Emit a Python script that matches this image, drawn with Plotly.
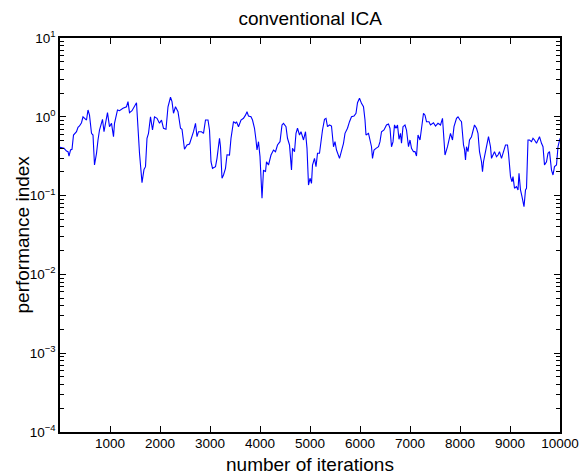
import plotly.graph_objects as go

iterations = [0, 80, 130, 160, 180, 210, 240, 270, 330, 360, 390, 430, 460, 530, 560, 590, 630, 660, 690, 730,
              760, 790, 850, 880, 910, 950, 990, 1030, 1070, 1090, 1150, 1190, 1260, 1330, 1360, 1390, 1440, 1490, 1530, 1590,
              1640, 1680, 1710, 1740, 1770, 1810, 1850, 1890, 1940, 1990, 2030, 2070, 2120, 2160, 2210, 2240, 2270, 2310, 2360, 2410,
              2440, 2490, 2540, 2590, 2640, 2670, 2710, 2740, 2770, 2830, 2870, 2910, 2960, 2990, 3020, 3050, 3110, 3140, 3190, 3210,
              3240, 3270, 3310, 3340, 3390, 3420, 3470, 3510, 3530, 3570, 3620, 3670, 3710, 3740, 3770, 3820, 3850, 3890, 3920, 3940,
              3970, 4000, 4040, 4070, 4110, 4130, 4170, 4220, 4270, 4310, 4350, 4400, 4440, 4470, 4520, 4550, 4590, 4630, 4650, 4690,
              4720, 4750, 4790, 4820, 4870, 4910, 4940, 4970, 5000, 5030, 5050, 5090, 5120, 5150, 5190, 5220, 5250, 5290, 5320, 5350,
              5390, 5430, 5470, 5500, 5530, 5590, 5630, 5670, 5700, 5750, 5790, 5830, 5880, 5920, 5950, 5990, 6030, 6070, 6100, 6120,
              6170, 6200, 6230, 6250, 6280, 6320, 6370, 6400, 6430, 6480, 6530, 6570, 6600, 6630, 6660, 6690, 6720, 6750, 6780, 6810,
              6830, 6860, 6900, 6930, 6970, 7000, 7030, 7070, 7100, 7130, 7160, 7200, 7230, 7270, 7300, 7330, 7380, 7410, 7470, 7510,
              7560, 7610, 7650, 7680, 7700, 7750, 7780, 7810, 7850, 7880, 7930, 7960, 8000, 8030, 8070, 8090, 8110, 8130, 8160, 8190,
              8230, 8260, 8290, 8330, 8360, 8390, 8430, 8450, 8470, 8510, 8540, 8570, 8610, 8630, 8660, 8690, 8730, 8760, 8790, 8830,
              8860, 8910, 8950, 8970, 9010, 9040, 9060, 9090, 9130, 9160, 9180, 9210, 9240, 9280, 9310, 9330, 9360, 9390, 9430, 9460,
              9490, 9530, 9560, 9590, 9630, 9660, 9690, 9730, 9760, 9790, 9830, 9860, 9890, 9930, 9960, 10000]

performance_index = [0.41, 0.398, 0.368, 0.361, 0.318, 0.379, 0.387, 0.587, 0.647, 0.736, 0.764, 0.842, 1.0, 0.91, 1.22, 1.05, 0.617, 0.587, 0.2445, 0.344,
                     0.508, 0.68, 0.93, 0.647, 0.827, 1.13, 0.749, 0.827, 0.559, 0.827, 1.22, 1.195, 1.28, 1.34, 1.555, 1.13, 1.195, 1.37, 1.51, 0.344,
                     0.146, 0.215, 0.233, 0.534, 0.617, 1.0, 0.68, 1.0, 0.957, 0.827, 0.91, 0.715, 0.694, 1.34, 1.77, 1.555, 1.11, 1.34, 1.16, 0.715,
                     0.694, 0.387, 0.439, 0.452, 0.559, 0.647, 0.827, 0.559, 0.647, 0.647, 0.617, 0.91, 0.91, 0.68, 0.269, 0.222, 0.233, 0.297, 0.534, 0.417,
                     0.166, 0.1826, 0.222, 0.33, 0.327, 0.534, 0.867, 0.827, 0.867, 0.749, 0.91, 0.957, 1.05, 1.16, 1.02, 1.0, 0.91, 0.715, 0.508, 0.379,
                     0.483, 0.312, 0.0924, 0.211, 0.201, 0.269, 0.2445, 0.327, 0.379, 0.361, 0.439, 0.483, 0.787, 0.827, 0.749, 0.534, 0.439, 0.211, 0.398, 0.361,
                     0.617, 0.715, 0.587, 0.647, 0.508, 0.647, 0.398, 0.136, 0.166, 0.143, 0.2445, 0.297, 0.233, 0.344, 0.344, 0.508, 0.68, 0.93, 0.957, 0.749,
                     0.787, 0.764, 0.417, 0.483, 0.379, 0.297, 0.361, 0.461, 0.617, 0.715, 0.867, 1.0, 1.02, 1.11, 1.51, 1.72, 1.48, 1.34, 0.91, 0.587,
                     0.617, 0.508, 0.417, 0.297, 0.379, 0.398, 0.417, 0.483, 0.647, 0.68, 0.787, 0.81, 0.715, 0.417, 0.48, 0.79, 0.715, 0.787, 0.518, 0.617,
                     0.461, 0.749, 0.787, 0.68, 0.417, 0.508, 0.398, 0.361, 0.361, 0.318, 0.587, 0.508, 0.68, 1.11, 1.05, 0.867, 0.867, 0.787, 0.842, 0.764,
                     0.827, 0.787, 0.957, 0.508, 0.327, 0.417, 0.534, 0.617, 0.508, 0.749, 0.957, 1.0, 0.91, 0.867, 0.439, 0.387, 0.283, 0.417, 0.361, 0.508,
                     0.559, 0.647, 0.787, 0.715, 0.617, 0.361, 0.269, 0.201, 0.269, 0.361, 0.483, 0.559, 0.417, 0.297, 0.327, 0.361, 0.312, 0.327, 0.361, 0.297,
                     0.344, 0.439, 0.439, 0.344, 0.174, 0.150, 0.174, 0.124, 0.130, 0.118, 0.192, 0.118, 0.0968, 0.0723, 0.118, 0.124, 0.508, 0.508, 0.483, 0.534,
                     0.508, 0.461, 0.508, 0.559, 0.461, 0.417, 0.2445, 0.269, 0.344, 0.361, 0.211, 0.1826, 0.233, 0.2445, 0.417, 0.534]

x_tick_vals = [1000, 2000, 3000, 4000, 5000, 6000, 7000, 8000, 9000, 10000]
x_tick_text = ["1000", "2000", "3000", "4000", "5000", "6000", "7000", "8000", "9000", "10000"]
y_tick_vals = [1e-4, 1e-3, 1e-2, 1e-1, 1e0, 1e1]
y_tick_text = ["10<sup>−4</sup>", "10<sup>−3</sup>", "10<sup>−2</sup>", "10<sup>−1</sup>", "10<sup>0</sup>", "10<sup>1</sup>"]
y_minor_vals = [m * d for d in [1e-4, 1e-3, 1e-2, 1e-1, 1e0] for m in range(2, 10)]

font_family = "Liberation Sans, Arial, Helvetica, sans-serif"

fig = go.Figure()
fig.add_trace(go.Scatter(
    x=iterations, y=performance_index, mode="lines",
    line=dict(color="#0000ff", width=1.1),
    showlegend=False,
))
# empty helper trace so the overlaid minor-tick axis is drawn
fig.add_trace(go.Scatter(x=[None], y=[None], yaxis="y2", mode="lines",
                         showlegend=False, hoverinfo="skip"))

fig.update_layout(
    width=582, height=476,
    margin=dict(l=60, r=22, t=38, b=44, autoexpand=False),
    paper_bgcolor="white", plot_bgcolor="white",
    font=dict(family=font_family, color="black", size=13),
    title=dict(text="conventional ICA", x=0.533, xanchor="center", y=0.962, yanchor="middle",
               font=dict(size=19, family=font_family, color="black")),
    annotations=[
        dict(text="number of iterations", xref="paper", yref="paper", x=0.5, y=-0.083,
             xanchor="center", yanchor="middle", showarrow=False, font=dict(size=19)),
        dict(text="performance index", xref="paper", yref="paper", x=-0.077, y=0.5,
             xanchor="center", yanchor="middle", textangle=-90, showarrow=False, font=dict(size=19)),
    ],
    yaxis2=dict(
        type="log", range=[-4, 1], overlaying="y", side="left",
        tickmode="array", tickvals=y_minor_vals, showticklabels=False,
        ticks="inside", ticklen=4, tickcolor="black", tickwidth=1,
        showline=False, mirror="ticks", showgrid=False, zeroline=False, automargin=False,
    ),
)

fig.update_xaxes(
    range=[0, 10000], tickvals=x_tick_vals, ticktext=x_tick_text,
    ticks="inside", ticklen=6, tickcolor="black", tickwidth=1,
    showline=True, linecolor="black", linewidth=1.5, mirror="ticks",
    showgrid=False, zeroline=False, automargin=False,
    tickfont=dict(size=13.5), ticklabelstandoff=-2,
)

fig.layout.yaxis.update(
    type="log", range=[-4, 1], tickmode="array", tickvals=y_tick_vals, ticktext=y_tick_text,
    ticks="inside", ticklen=6, tickcolor="black", tickwidth=1,
    showline=True, linecolor="black", linewidth=1.5, mirror="ticks",
    showgrid=False, zeroline=False, automargin=False,
    tickfont=dict(size=13.5),
)

fig.write_html("out.html")
